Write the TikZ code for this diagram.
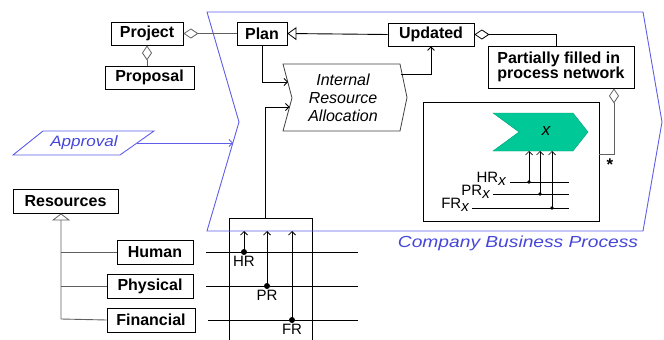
\documentclass[tikz,border=0pt]{standalone}
\usepackage{fontspec}
\setmainfont{Liberation Sans}
\usetikzlibrary{arrows.meta}
\definecolor{procblue}{HTML}{5E5EE8}
\definecolor{textblue}{HTML}{4646DA}
\definecolor{actgreen}{HTML}{00C896}
\definecolor{umlgray}{HTML}{606060}
\begin{document}
\begin{tikzpicture}[x=1pt,y=-1pt,
  box/.style={draw, line width=0.8pt, inner sep=0pt, minimum height=23pt,
    font=\fontsize{16}{18}\selectfont\bfseries},
  line/.style={line width=0.9pt},
  umlline/.style={draw=umlgray, line width=0.9pt},
  arr/.style={line width=0.8pt, -{Straight Barb[length=3.5pt,width=7pt]}},
  barr/.style={draw=procblue, line width=0.8pt, -{Straight Barb[length=3.5pt,width=7pt]}},
  dia/.style={{Diamond[open,length=15pt,width=10pt,line width=0.8pt]}-},
  lbl/.style={font=\fontsize{15}{17}\selectfont, inner sep=0pt},
]
\useasboundingbox (0,0) rectangle (664,340);

% resource bundle frame (open at the bottom)
\draw[line] (229,345) -- (229,218) -- (312,218) -- (312,345);
\coordinate (rtop) at (265,218);

% company business process outline
\draw[procblue, line width=0.9pt]
  (207,12) -- (643,12) -- (662,122) -- (643,231) -- (207,231) -- (239,122) -- cycle;
\node[font=\fontsize{16}{18}\selectfont\itshape, text=textblue, inner sep=0pt]
  (cbp) at (518,243) {\scalebox{1.2}[1]{Company Business Process}};

% UML classes
\node[box, minimum width=72pt] (project) at (147,33.5) {Project};
\node[box, minimum width=50pt] (plan) at (262,33.5) {Plan};
\node[box, minimum width=89pt] (proposal) at (149.5,77.5) {Proposal};
\node[box, minimum width=86pt] (updated) at (431,34.5) {Updated};
\node[box, minimum width=146pt, minimum height=42pt, align=left,
  font=\fontsize{16}{15}\selectfont\bfseries] (partial) at (561,67)
  {Partially filled in\\process network};

\node[box, minimum width=105pt, minimum height=24pt] (resources) at (65.5,201) {Resources};
\node[box, minimum width=76pt, minimum height=24pt] (human) at (155,252) {Human};
\node[box, minimum width=86pt, minimum height=24pt] (physical) at (150,286) {Physical};
\node[box, minimum width=88pt, minimum height=24pt] (financial) at (151,320) {Financial};

% aggregations and generalisations
\draw[umlline, dia] (project.east) -- (plan.west);
\draw[umlline, dia] (project.south) -- (project.south |- proposal.north);
\draw[line, {Triangle[open,length=9pt,width=13pt,line width=0.8pt]}-] (plan.east) -- (updated.west);
\draw[line, dia] (updated.east) -| ([xshift=-5pt]partial.north);

\coordinate (gen) at (61,319);
\draw[umlline, {Triangle[open,length=7pt,width=18pt,line width=0.8pt]}-]
  (resources.south -| gen) -- (gen) -- (financial.west);
\draw[umlline] (gen |- human.west) -- (human.west);
\draw[umlline] (gen |- physical.west) -- (physical.west);

% internal resource allocation activity
\draw[line width=0.8pt, draw=black!75]
  (283,64) -- (400,64) -- (407,97.5) -- (400,131) -- (283,131) -- (292,98) -- cycle;
\node[font=\fontsize{16}{18}\selectfont\itshape, align=center, inner sep=0pt]
  (ira) at (343,98) {Internal\\Resource\\Allocation};
\coordinate (irain1) at (288,82);
\coordinate (irain2) at (289.5,107);
\coordinate (iraout) at (401,74);

\draw[arr] (plan.south) |- (irain1);
\draw[arr] (rtop) |- (irain2);
\draw[arr] (iraout) -| (updated.south);

% approval input
\draw[procblue, line width=0.9pt] (43,131) -- (154,131) -- (120,155) -- (13,155) -- cycle;
\node[font=\fontsize{15}{17}\selectfont\itshape, text=textblue, inner sep=0pt]
  (approval) at (84,143) {\scalebox{1.14}[1]{Approval}};
\coordinate (appout) at (137,143);
\coordinate (procin) at (233,143);
\draw[barr] (appout) -- (procin);

% resource buses
\coordinate (hr) at (244,252);
\coordinate (pr) at (267,286);
\coordinate (fr) at (292,320);
\draw[line] (206,252) -- (358,252);
\draw[line] (206,286) -- (358,286);
\draw[line] (208,320) -- (358,320);
\foreach \c/\t in {hr/HR, pr/PR, fr/FR}{
  \fill (\c) circle (3);
  \draw[arr] (\c) -- (\c |- 0,231);
  \node[lbl, anchor=north] at ([yshift=-4pt]\c) {\t};
}

% process network fragment
\node[draw, line width=0.8pt, minimum width=176pt, minimum height=119pt, inner sep=0pt]
  (net) at (511,161.5) {};
\coordinate (netpt) at (599,154);
\draw[umlline, dia] ([xshift=53pt]partial.south) |- (netpt);
\node[inner sep=0pt, font=\fontsize{17}{17}\selectfont\bfseries] (mult) at (610,165) {*};

\fill[actgreen, draw=actgreen!80!black, line width=0.4pt]
  (493,113) -- (573,113) -- (588,132) -- (573,151) -- (493,151) -- (519,132) -- cycle;
\node[font=\fontsize{17}{18}\selectfont\itshape, inner sep=0pt] (actx) at (546,131) {x};

\coordinate (hx) at (529,182);
\coordinate (px) at (540,194);
\coordinate (fx) at (552,208);
\draw[line] (510,182) -- (569,182);
\draw[line] (493,194) -- (569,194);
\draw[line] (472,208) -- (569,208);
\foreach \c in {hx, px, fx}{
  \fill (\c) circle (1.8);
  \draw[arr, line width=0.7pt] (\c) -- (\c |- 0,151);
}
\node[lbl, anchor=base east] at (506,182) {HR\raisebox{-3.5pt}{\itshape x}};
\node[lbl, anchor=base east] at (490,195) {PR\raisebox{-3.5pt}{\itshape x}};
\node[lbl, anchor=base east] at (469,208) {FR\raisebox{-3.5pt}{\itshape x}};
\end{tikzpicture}
\end{document}
